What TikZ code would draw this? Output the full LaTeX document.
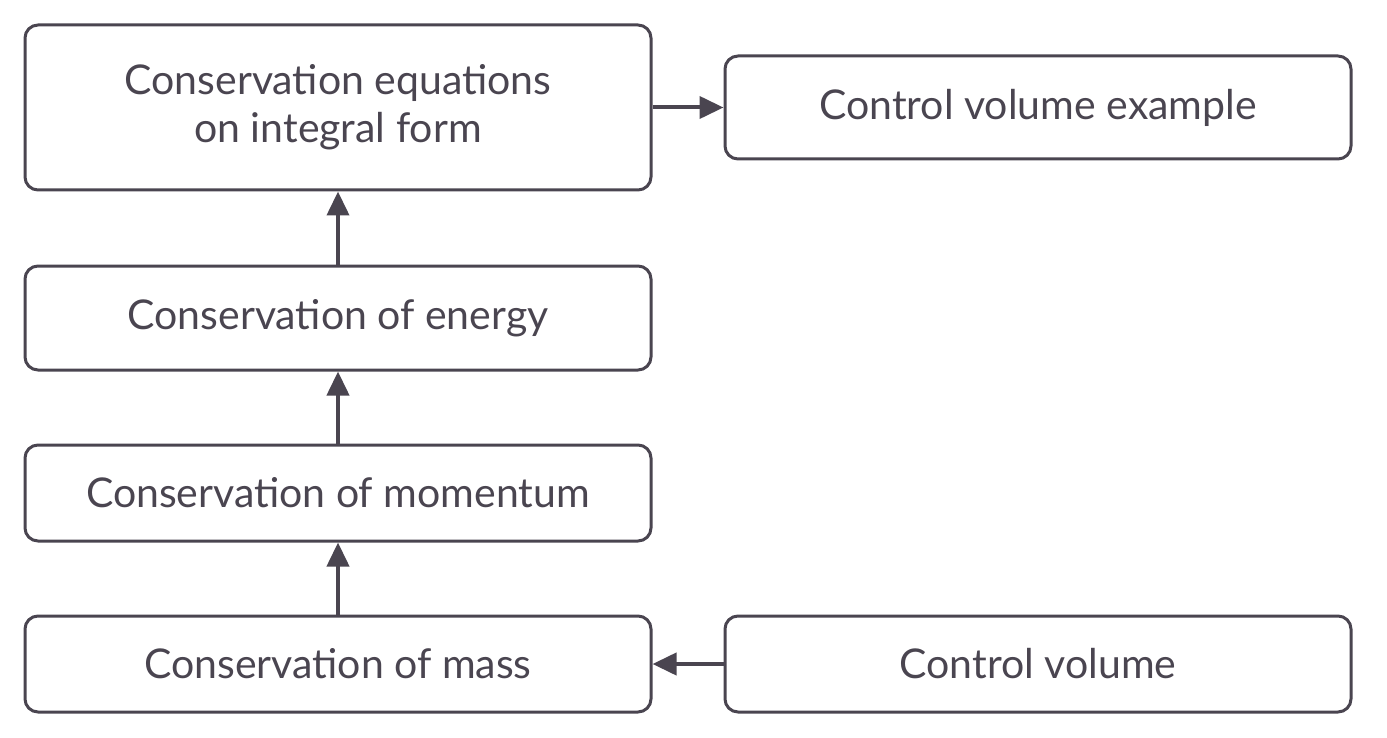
\documentclass[tikz,border=0pt]{standalone}
\usepackage{fontspec}
\setmainfont{Lato}
\usetikzlibrary{arrows.meta}
\definecolor{ink}{HTML}{4A4550}
\begin{document}
\begin{tikzpicture}[x=1pt,y=-1pt,
  box/.style={draw=ink, line width=3pt, rounded corners=13pt, text=ink, font=\fontsize{41}{48}\selectfont, align=center, inner sep=0pt},
  conn/.style={draw=ink, line width=4pt, -{Triangle[length=24pt,width=22pt]}}]
\useasboundingbox (0,0) rectangle (1387,738);
\node[box, minimum width=626pt, minimum height=165pt] (A) at (338,107.5) {Conservation equations\\on integral form};
\node[box, minimum width=626pt, minimum height=103pt] (B) at (1038,107.5) {Control volume example};
\node[box, minimum width=626pt, minimum height=104pt] (C) at (338,318) {Conservation of energy};
\node[box, minimum width=626pt, minimum height=96pt] (D) at (338,493) {Conservation of momentum};
\node[box, minimum width=626pt, minimum height=96pt] (E) at (338,664) {Conservation of mass};
\node[box, minimum width=626pt, minimum height=96pt] (F) at (1038,664) {Control volume};
\draw[conn] (A.east) -- (B.west);
\draw[conn] (C.north) -- (A.south);
\draw[conn] (D.north) -- (C.south);
\draw[conn] (E.north) -- (D.south);
\draw[conn] (F.west) -- (E.east);
\end{tikzpicture}
\end{document}
